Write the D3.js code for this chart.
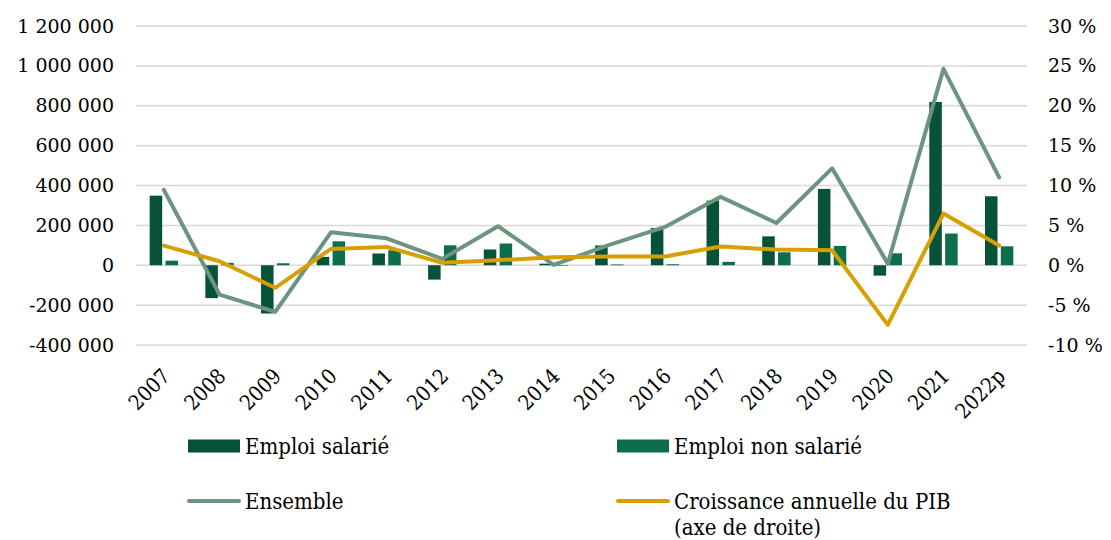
<!DOCTYPE html>
<html>
<head>
<meta charset="utf-8">
<script src="https://d3js.org/d3.v7.min.js"></script>
<style>
  body { margin: 0; background: #fff; }
  svg text { font-family: "DejaVu Serif", serif; fill: #000; }
  svg text.cond { font-family: "DejaVu Serif Condensed", "DejaVu Serif", serif; }
</style>
</head>
<body>
<div id="chart"></div>
<script>
// Data
const years = ["2007", "2008", "2009", "2010", "2011", "2012", "2013", "2014",
  "2015", "2016", "2017", "2018", "2019", "2020", "2021", "2022p"];
const salarie = [349000, -165000, -242000, 42000, 59000, -72000, 79000, 8000,
  99000, 187000, 324000, 145000, 383000, -52000, 819000, 346000];
const nonSalarie = [23000, 12000, 10000, 120000, 75000, 100000, 109000, -3000,
  4000, 5000, 17000, 65000, 97000, 60000, 159000, 95000];
const ensemble = [378000, -147000, -234000, 165000, 135000, 32000, 196000, 2000,
  102000, 192000, 343000, 212000, 486000, 8000, 985000, 441000];
const pib = [2.47, 0.5, -2.83, 2.05, 2.3, 0.3, 0.63, 1.0,
  1.1, 1.1, 2.34, 1.96, 1.88, -7.47, 6.48, 2.47];
const leftTicks = [-400000, -200000, 0, 200000, 400000, 600000, 800000, 1000000, 1200000];
const rightTicks = [-10, -5, 0, 5, 10, 15, 20, 25, 30];

const colors = {
  salarie: "#07533A",
  nonSalarie: "#0C6E4B",
  ensemble: "#6D947E",
  pib: "#D89F00",
  grid: "#D9D9D9"
};

const width = 1111, height = 540;
const margin = { left: 136, right: 84, top: 26, bottom: 195 };
const innerW = width - margin.left - margin.right;
const innerH = height - margin.top - margin.bottom;

const svg = d3.select("#chart").append("svg")
  .attr("width", width).attr("height", height);

const g = svg.append("g").attr("transform", `translate(${margin.left},${margin.top})`);

const x = d3.scaleBand().domain(years).range([0, innerW]);
const yL = d3.scaleLinear().domain([-400000, 1200000]).range([innerH, 0]);
const yR = d3.scaleLinear().domain([-10, 30]).range([innerH, 0]);

const fmtL = v => d3.format(",")(v).replace(/,/g, " ").replace("−", "-");
const fmtR = v => `${v} %`;

// gridlines
g.append("g")
  .selectAll("line")
  .data(leftTicks)
  .join("line")
  .attr("x1", 0).attr("x2", innerW)
  .attr("y1", d => yL(d)).attr("y2", d => yL(d))
  .attr("stroke", colors.grid).attr("stroke-width", 1.5);

// left axis
const axL = g.append("g")
  .call(d3.axisLeft(yL).tickValues(leftTicks).tickFormat(fmtL).tickSize(0).tickPadding(22));
axL.select(".domain").remove();
axL.selectAll("text").attr("font-size", 19).attr("font-family", "DejaVu Serif");

// right axis
const axR = g.append("g").attr("transform", `translate(${innerW},0)`)
  .call(d3.axisRight(yR).tickValues(rightTicks).tickFormat(fmtR).tickSize(0).tickPadding(21));
axR.select(".domain").remove();
axR.selectAll("text").attr("font-size", 19).attr("font-family", "DejaVu Serif");

// bars
const bw = x.bandwidth() * 0.225;
const gap = 3.3;
const bars = g.append("g");
bars.selectAll(".sal")
  .data(salarie)
  .join("rect")
  .attr("x", (d, i) => x(years[i]) + x.bandwidth() / 2 - gap / 2 - bw)
  .attr("width", bw)
  .attr("y", d => yL(Math.max(0, d)))
  .attr("height", d => Math.abs(yL(d) - yL(0)))
  .attr("fill", colors.salarie);
bars.selectAll(".nsal")
  .data(nonSalarie)
  .join("rect")
  .attr("x", (d, i) => x(years[i]) + x.bandwidth() / 2 + gap / 2)
  .attr("width", bw)
  .attr("y", d => yL(Math.max(0, d)))
  .attr("height", d => Math.abs(yL(d) - yL(0)))
  .attr("fill", colors.nonSalarie);

// lines
const cx = i => x(years[i]) + x.bandwidth() / 2;
g.append("path")
  .datum(ensemble)
  .attr("fill", "none")
  .attr("stroke", colors.ensemble)
  .attr("stroke-width", 4)
  .attr("stroke-linejoin", "round")
  .attr("stroke-linecap", "round")
  .attr("d", d3.line().x((d, i) => cx(i)).y(d => yL(d)));

g.append("path")
  .datum(pib)
  .attr("fill", "none")
  .attr("stroke", colors.pib)
  .attr("stroke-width", 4)
  .attr("stroke-linejoin", "round")
  .attr("stroke-linecap", "round")
  .attr("d", d3.line().x((d, i) => cx(i)).y(d => yR(d)));

// x labels, rotated
g.append("g")
  .selectAll("text")
  .data(years)
  .join("text")
  .attr("class", "cond")
  .attr("transform", d => `translate(${x(d) + x.bandwidth() / 2 - 3},${innerH + 22}) rotate(-45)`)
  .attr("text-anchor", "end")
  .attr("dy", "0.7em")
  .attr("font-size", 21)
  .text(d => d);

// legend
const legend = svg.append("g");
const items = [
  { label: ["Emploi salarié"], type: "rect", color: colors.salarie, x: 188, y: 446 },
  { label: ["Emploi non salarié"], type: "rect", color: colors.nonSalarie, x: 617, y: 446 },
  { label: ["Ensemble"], type: "line", color: colors.ensemble, x: 188, y: 501 },
  { label: ["Croissance annuelle du PIB", "(axe de droite)"], type: "line", color: colors.pib, x: 617, y: 501 }
];
items.forEach(it => {
  if (it.type === "rect") {
    legend.append("rect")
      .attr("x", it.x).attr("y", it.y - 6.5)
      .attr("width", 52).attr("height", 13)
      .attr("fill", it.color);
  } else {
    legend.append("line")
      .attr("x1", it.x + 1).attr("x2", it.x + 51)
      .attr("y1", it.y).attr("y2", it.y)
      .attr("stroke", it.color).attr("stroke-width", 4)
      .attr("stroke-linecap", "round");
  }
  const t = legend.append("text")
    .attr("class", "cond")
    .attr("x", it.x + 57).attr("y", it.y)
    .attr("font-size", 22);
  it.label.forEach((l, k) => {
    t.append("tspan").attr("x", it.x + 57).attr("dy", k === 0 ? "0.35em" : "1.2em").text(l);
  });
});
</script>
</body>
</html>
